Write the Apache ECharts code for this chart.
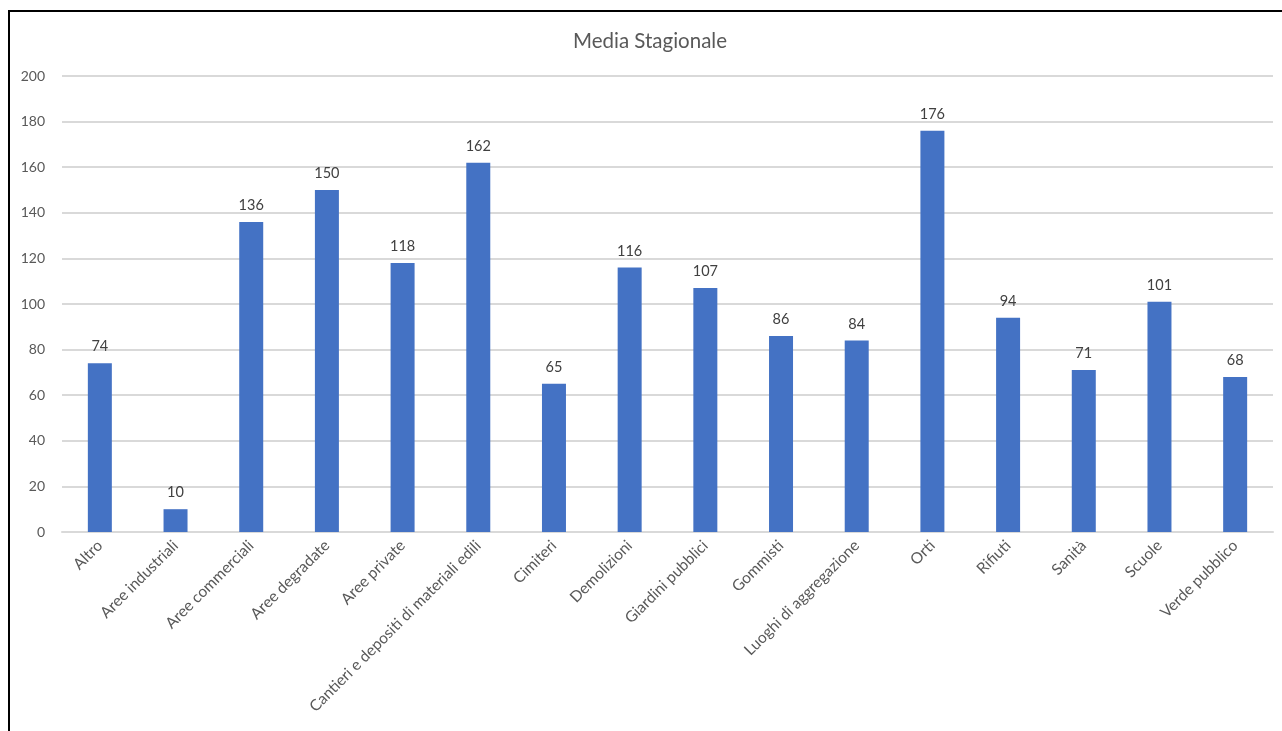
<!DOCTYPE html>
<html>
<head>
<meta charset="utf-8">
<script src="https://cdn.jsdelivr.net/npm/echarts@6/dist/echarts.min.js"></script>
<style>
  html, body { margin: 0; padding: 0; background: #fff; overflow: hidden; width: 1282px; height: 731px; }
  #frame {
    position: absolute; left: 8px; top: 10px;
    width: 1400px; height: 800px;
    border: 2px solid #000; box-sizing: border-box;
  }
  /* the chart area is wider than the window: its right edge runs off-screen */
  #chart { position: absolute; left: 0; top: 0; width: 1300px; height: 731px; }
</style>
</head>
<body>
<div id="frame"></div>
<div id="chart"></div>
<script>
// Seasonal averages per site category
const categories = [
  'Altro', 'Aree industriali', 'Aree commerciali', 'Aree degradate', 'Aree private',
  'Cantieri e depositi di materiali edili', 'Cimiteri', 'Demolizioni', 'Giardini pubblici',
  'Gommisti', 'Luoghi di aggregazione', 'Orti', 'Rifiuti', 'Sanità', 'Scuole', 'Verde pubblico'
];
const mediaStagionale = [74, 10, 136, 150, 118, 162, 65, 116, 107, 86, 84, 176, 94, 71, 101, 68];
const yTicks = { min: 0, max: 200, interval: 20 };

const FONT = 'Lato';
const chart = echarts.init(document.getElementById('chart'), null, { renderer: 'canvas' });
chart.setOption({
  backgroundColor: 'transparent',
  animation: false,
  title: {
    text: 'Media Stagionale',
    left: 'center',
    top: 26,
    textStyle: { fontFamily: FONT, fontSize: 20.5, fontWeight: 'normal', color: '#595959' }
  },
  grid: { left: 62, right: 27, top: 76, bottom: 199 },
  xAxis: {
    type: 'category',
    data: categories,
    axisLine: { lineStyle: { color: '#d9d9d9', width: 2 } },
    axisTick: { show: false },
    axisLabel: {
      rotate: 45,
      interval: 0,
      margin: 11,
      fontFamily: FONT,
      fontSize: 15.5,
      color: '#595959'
    }
  },
  yAxis: {
    type: 'value',
    min: yTicks.min,
    max: yTicks.max,
    interval: yTicks.interval,
    axisLine: { show: false },
    axisTick: { show: false },
    splitLine: { lineStyle: { color: '#d9d9d9', width: 2 } },
    axisLabel: { margin: 17, fontFamily: FONT, fontSize: 14, color: '#595959' }
  },
  series: [{
    type: 'bar',
    data: mediaStagionale,
    barWidth: '31.7%',
    itemStyle: { color: '#4472C4' },
    label: {
      show: true,
      position: 'top',
      distance: 9,
      fontFamily: FONT,
      fontSize: 14.5,
      color: '#404040'
    }
  }]
});
</script>
</body>
</html>
